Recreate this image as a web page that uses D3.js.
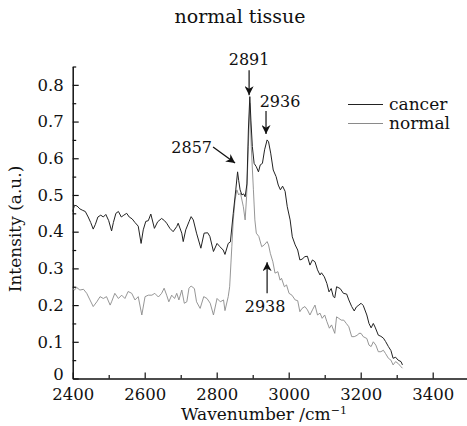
<!DOCTYPE html>
<html>
<head>
<meta charset="utf-8">
<script src="https://cdn.jsdelivr.net/npm/d3@7"></script>
<style>
  body { margin: 0; background: #fff; }
  text { font-family: "DejaVu Serif", serif; fill: #111; }
</style>
</head>
<body>
<div id="chart"></div>
<script>
// spectra
var cancerWn = [2400,2405,2412,2420,2428,2435,2443,2450,2457,2463,2470,2478,2485,2492,2500,2508,2513,2520,2527,2535,2542,2550,2557,2565,2573,2582,2590,2596,2603,2610,2617,2627,2636,2647,2655,2661,2670,2679,2689,2693,2703,2707,2714,2723,2729,2735,2744,2756,2765,2775,2781,2791,2801,2809,2818,2823,2832,2838,2846,2853,2858,2861,2865,2870,2875,2879,2884,2888,2892,2895,2899,2904,2910,2916,2921,2927,2933,2940,2944,2950,2957,2965,2971,2977,2983,2990,2996,3004,3010,3018,3025,3031,3037,3045,3052,3059,3066,3073,3080,3087,3091,3099,3106,3112,3118,3124,3128,3133,3143,3152,3161,3167,3175,3182,3188,3195,3201,3207,3217,3223,3229,3235,3240,3249,3256,3263,3269,3277,3284,3290,3297,3304,3312,3316];
var cancerInt = [0.455,0.472,0.470,0.462,0.458,0.455,0.440,0.425,0.407,0.420,0.440,0.445,0.440,0.447,0.430,0.402,0.425,0.450,0.455,0.440,0.445,0.450,0.440,0.435,0.425,0.415,0.368,0.405,0.428,0.430,0.448,0.409,0.427,0.436,0.430,0.423,0.409,0.400,0.414,0.423,0.396,0.373,0.405,0.427,0.441,0.432,0.396,0.355,0.396,0.397,0.387,0.346,0.368,0.359,0.350,0.338,0.368,0.372,0.450,0.514,0.563,0.540,0.514,0.500,0.503,0.495,0.530,0.677,0.768,0.704,0.632,0.586,0.577,0.563,0.582,0.586,0.623,0.650,0.645,0.614,0.568,0.550,0.527,0.514,0.524,0.510,0.468,0.432,0.386,0.364,0.350,0.323,0.325,0.332,0.333,0.309,0.323,0.318,0.296,0.282,0.288,0.277,0.259,0.236,0.245,0.223,0.220,0.250,0.245,0.232,0.230,0.214,0.196,0.184,0.195,0.200,0.205,0.199,0.173,0.150,0.138,0.150,0.140,0.118,0.115,0.110,0.101,0.087,0.076,0.055,0.058,0.050,0.046,0.037];

var normalWn = [2400,2405,2411,2420,2430,2439,2448,2457,2467,2476,2485,2494,2504,2508,2517,2527,2536,2545,2554,2564,2573,2582,2592,2601,2610,2620,2628,2638,2647,2654,2661,2667,2675,2683,2689,2695,2703,2710,2717,2723,2729,2738,2744,2754,2764,2773,2782,2791,2801,2810,2819,2823,2832,2836,2842,2846,2851,2856,2861,2866,2874,2879,2883,2888,2892,2896,2902,2906,2910,2917,2925,2932,2940,2944,2949,2956,2962,2970,2976,2980,2988,2994,3001,3009,3018,3025,3031,3037,3045,3052,3059,3066,3073,3080,3087,3093,3100,3106,3113,3119,3128,3133,3139,3146,3153,3160,3167,3175,3182,3191,3195,3201,3207,3217,3223,3229,3235,3242,3249,3256,3263,3269,3277,3284,3290,3297,3304,3312,3316];
var normalInt = [0.245,0.241,0.248,0.241,0.243,0.232,0.214,0.196,0.209,0.223,0.218,0.223,0.200,0.209,0.232,0.218,0.227,0.218,0.237,0.232,0.214,0.223,0.173,0.223,0.227,0.227,0.232,0.222,0.232,0.246,0.227,0.209,0.227,0.218,0.232,0.214,0.241,0.205,0.209,0.246,0.252,0.245,0.209,0.191,0.223,0.218,0.205,0.173,0.218,0.209,0.214,0.185,0.223,0.250,0.359,0.432,0.486,0.514,0.500,0.505,0.468,0.432,0.495,0.632,0.750,0.632,0.514,0.432,0.396,0.387,0.359,0.364,0.373,0.364,0.341,0.318,0.287,0.291,0.268,0.273,0.250,0.255,0.232,0.227,0.214,0.212,0.182,0.191,0.196,0.187,0.173,0.187,0.200,0.173,0.178,0.164,0.173,0.155,0.137,0.146,0.123,0.168,0.164,0.159,0.159,0.150,0.141,0.114,0.114,0.118,0.123,0.123,0.114,0.109,0.091,0.087,0.100,0.091,0.073,0.073,0.077,0.068,0.055,0.050,0.037,0.046,0.041,0.032,0.028];

var xMajor = [2400,2600,2800,3000,3200,3400];
var xMinor = [2500,2700,2900,3100,3300,3500];
var yMajor = [0,0.1,0.2,0.3,0.4,0.5,0.6,0.7,0.8];
var yMinor = [0.05,0.15,0.25,0.35,0.45,0.55,0.65,0.75,0.85];

var seriesNames = ["cancer", "normal"];
var peakLabels = ["2891", "2936", "2857", "2938"];
var peakWn = [2890, 2937, 2851, 2940];
var peakInt = [0.772, 0.666, 0.587, 0.317];

var W = 467, H = 426;
var svg = d3.select("#chart").append("svg")
    .attr("width", W)
    .attr("height", H);

var x = d3.scaleLinear().domain([2400, 3500]).range([72.7, 468.7]);
var y = d3.scaleLinear().domain([0, 0.85]).range([378.5, 66.5]);

// title
svg.append("text")
  .attr("x", 240).attr("y", 23)
  .attr("text-anchor", "middle")
  .style("font-size", "19px")
  .style("font-weight", "300")
  .text("normal tissue");

// axes
var fmt = function(d) { return d === 0 ? "0" : d3.format(".1f")(d); };

var gx = svg.append("g")
  .attr("transform", "translate(0," + y(0) + ")")
  .call(d3.axisBottom(x).tickValues(xMajor).tickSize(-6).tickSizeOuter(0).tickPadding(10).tickFormat(d3.format("d")));
svg.append("g")
  .attr("transform", "translate(0," + y(0) + ")")
  .call(d3.axisBottom(x).tickValues(xMinor).tickSize(-3.5).tickSizeOuter(0).tickFormat(""))
  .select(".domain").remove();

var gy = svg.append("g")
  .attr("transform", "translate(" + x(2400) + ",0)")
  .call(d3.axisLeft(y).tickValues(yMajor).tickSize(-6).tickSizeOuter(0).tickPadding(9).tickFormat(fmt));
svg.append("g")
  .attr("transform", "translate(" + x(2400) + ",0)")
  .call(d3.axisLeft(y).tickValues(yMinor).tickSize(-3.5).tickSizeOuter(0).tickFormat(""))
  .select(".domain").remove();

svg.selectAll(".domain").attr("stroke", "#111").attr("stroke-width", 1.5);
svg.selectAll(".tick line").attr("stroke", "#111").attr("stroke-width", 1.2);
svg.selectAll(".tick text")
  .style("font-family", "DejaVu Serif, serif")
  .style("font-size", "16.5px")
  .attr("fill", "#111");

// lift the "0" label a little, as in the original
gy.selectAll(".tick text").filter(function(d) { return d === 0; }).attr("dy", "0.05em");

// axis titles
svg.append("text")
  .attr("transform", "translate(21,229)rotate(-90)")
  .attr("text-anchor", "middle")
  .style("font-size", "17px")
  .text("Intensity (a.u.)");

var xt = svg.append("text")
  .attr("x", 264).attr("y", 420)
  .attr("text-anchor", "middle")
  .style("font-size", "17px")
  .text("Wavenumber /cm");
xt.append("tspan").attr("baseline-shift", "super").style("font-size", "11px").text("−1");

// spectra
var line = d3.line()
  .x(function(d) { return x(d[0]); })
  .y(function(d) { return y(d[1]); });

var normalData = d3.zip(normalWn, normalInt);
var cancerData = d3.zip(cancerWn, cancerInt);

svg.append("path")
  .datum(normalData)
  .attr("d", line)
  .attr("fill", "none")
  .attr("stroke", "#8a8a8a")
  .attr("stroke-width", 0.9);

svg.append("path")
  .datum(cancerData)
  .attr("d", line)
  .attr("fill", "none")
  .attr("stroke", "#222")
  .attr("stroke-width", 1);

// legend
var legColors = ["#222", "#8a8a8a"];
var leg = svg.append("g");
seriesNames.forEach(function(name, i) {
  leg.append("line")
    .attr("x1", 348).attr("x2", 383)
    .attr("y1", 104.5 + i * 19).attr("y2", 104.5 + i * 19)
    .attr("stroke", legColors[i]).attr("stroke-width", 1);
  leg.append("text")
    .attr("x", 389).attr("y", 110 + i * 18.5)
    .style("font-size", "17px")
    .text(name);
});

// peak annotations: [tail dx, tail dy, text dx, text dy, anchor]
var defs = svg.append("defs");
defs.append("marker")
  .attr("id", "head")
  .attr("viewBox", "0 0 10 10")
  .attr("refX", 10).attr("refY", 5)
  .attr("markerWidth", 9).attr("markerHeight", 9)
  .attr("markerUnits", "userSpaceOnUse")
  .attr("orient", "auto")
  .append("path")
  .attr("d", "M0,0 L10,5 L0,10 L3,5 Z")
  .attr("fill", "#111");

var offsets = [
  [0, -25, 0, -30, "middle"],
  [0, -23, 14, -27, "middle"],
  [-22, -16, -23, -10, "end"],
  [0, 31, -2, 50, "middle"]
];

peakLabels.forEach(function(lbl, i) {
  var px = x(peakWn[i]), py = y(peakInt[i]);
  var o = offsets[i];
  svg.append("line")
    .attr("x1", px + o[0]).attr("y1", py + o[1])
    .attr("x2", px).attr("y2", py)
    .attr("stroke", "#111").attr("stroke-width", 1.2)
    .attr("marker-end", "url(#head)");
  svg.append("text")
    .attr("x", px + o[2]).attr("y", py + o[3])
    .attr("text-anchor", o[4])
    .style("font-size", "16px")
    .text(lbl);
});
</script>
</body>
</html>
